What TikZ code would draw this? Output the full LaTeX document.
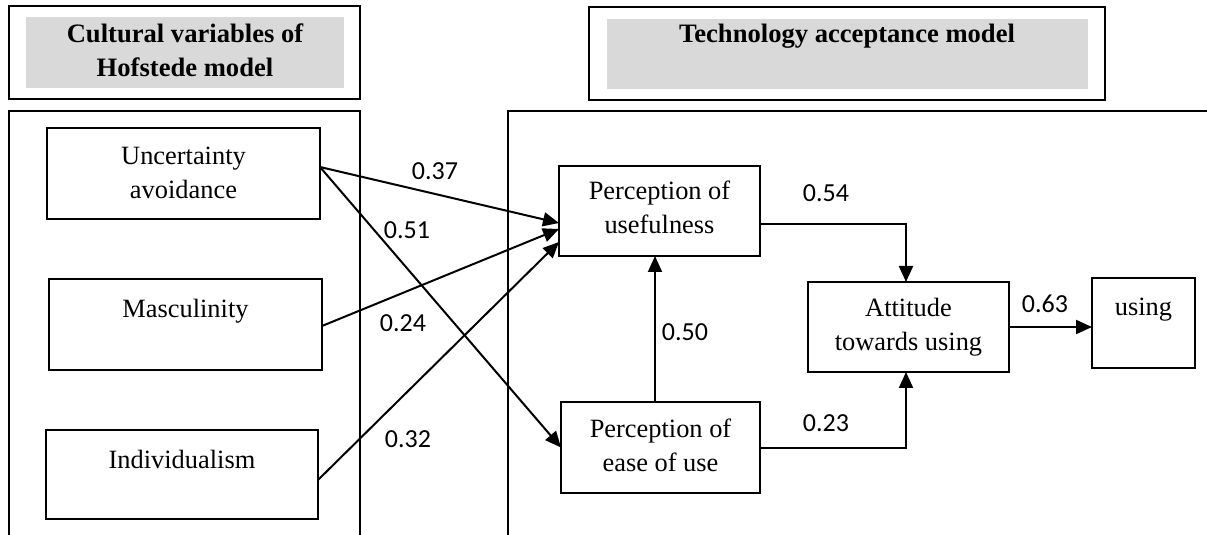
\documentclass[tikz,border=0pt]{standalone}
\usepackage{fontspec}
\setmainfont{Liberation Serif}
\newfontfamily\numfont{Carlito}
\usetikzlibrary{arrows.meta,calc}
\definecolor{titlegray}{HTML}{D9D9D9}
\newcommand\boxtext[4]{\parbox[c][#2][t]{#1}{\centering\rule{0pt}{#3}#4}}
\tikzset{
  frame/.style={draw, line width=1.4pt},
  graybox/.style={fill=titlegray, draw=none, inner sep=0pt, outer sep=0pt},
  titletext/.style={font=\fontsize{13.3}{17}\selectfont\bfseries, inner sep=0pt, anchor=base},
  varbox/.style={draw, line width=1pt, inner sep=0pt, outer sep=0pt, font=\fontsize{13.2}{17}\selectfont},
  conn/.style={line width=1pt, -{Triangle[length=8pt,width=7pt]}},
  num/.style={font=\numfont\fontsize{13}{16}\selectfont, inner sep=0pt, anchor=base}
}
\begin{document}
\begin{tikzpicture}[x=0.5pt, y=-0.5pt]
\useasboundingbox (0,0) rectangle (1207,535);
% title boxes
\node[frame, inner sep=0pt, minimum width=175.5pt, minimum height=46.5pt] (tl) at (184.5,52.5) {};
\node[graybox, minimum width=159pt, minimum height=35.5pt] (gl) at (185,52.5) {};
\node[titletext] (tla) at (185,43) {Cultural variables of};
\node[titletext] (tlb) at (185,77) {Hofstede model};
\node[frame, inner sep=0pt, minimum width=258pt, minimum height=46.5pt] (tr) at (847,53.5) {};
\node[graybox, minimum width=240.5pt, minimum height=35pt] (gr) at (847.5,54) {};
\node[titletext] (tra) at (847,43) {Technology acceptance model};
% group frames
\draw[frame] (9,536) -- (9,111) -- (360,111) -- (360,536);
\draw[frame] (508,536) -- (508,111) -- (1208,111);
% variable boxes
\node[varbox] (ua) at (183.5,173.5) {\boxtext{136.5pt}{45.5pt}{18.5pt}{Uncertainty\\avoidance}};
\node[varbox] (ma) at (185.5,324.5) {\boxtext{136.5pt}{45.5pt}{19.5pt}{Masculinity}};
\node[varbox] (ind) at (182,474.5) {\boxtext{136pt}{44.5pt}{19pt}{Individualism}};
\node[varbox] (pu) at (659.5,211) {\boxtext{100.5pt}{45pt}{17pt}{Perception of\\usefulness}};
\node[varbox] (pe) at (660.5,447.5) {\boxtext{99.5pt}{45.5pt}{17.5pt}{Perception of\\ease of use}};
\node[varbox] (att) at (908.5,327) {\boxtext{100.5pt}{45pt}{17.5pt}{Attitude\\towards using}};
\node[varbox] (us) at (1143.5,323) {\boxtext{51.5pt}{45pt}{18.5pt}{using}};
% connectors
\coordinate (uaout) at ($(ua.east)+(0,-6.5)$);
\draw[conn] (uaout) -- ($(pu.west)+(0,12)$);
\draw[conn] (uaout) -- (pe.west);
\draw[conn] ($(ma.east)+(0,1.5)$) -- ($(pu.west)+(0,18)$);
\draw[conn] ($(ind.east)+(0,5.5)$) -- ($(pu.west)+(0,31)$);
\coordinate (peup) at ($(pe.north)+(-5.5,0)$);
\draw[conn] (peup) -- (peup |- pu.south);
\draw[conn] ($(pu.east)+(0,13)$) -| ($(att.north)+(-2.5,0)$);
\draw[conn] ($(pe.east)+(0,0.5)$) -| ($(att.south)+(-2.5,0)$);
\draw[conn] (att.east) -- (us.west |- att.east);
% labels
\node[num] (l37) at (435,180) {0.37};
\node[num] (l51) at (407,239) {0.51};
\node[num] (l24) at (403,332) {0.24};
\node[num] (l32) at (408,447) {0.32};
\node[num] (l50) at (685,341) {0.50};
\node[num] (l54) at (826,202) {0.54};
\node[num] (l23) at (826,431) {0.23};
\node[num] (l63) at (1045,313) {0.63};
\end{tikzpicture}
\end{document}
